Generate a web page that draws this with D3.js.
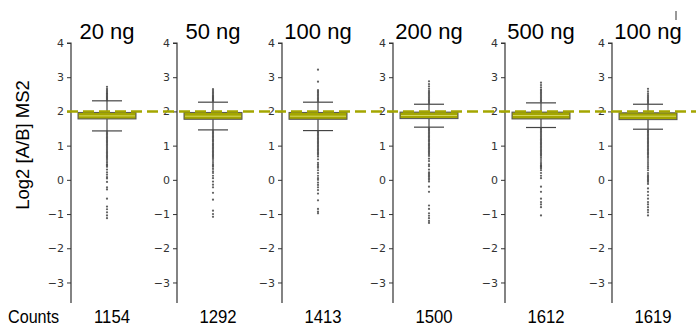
<!DOCTYPE html>
<html><head><meta charset="utf-8">
<script src="https://cdn.jsdelivr.net/npm/d3@7/dist/d3.min.js"></script>
<style>body{margin:0;background:#fff}svg{display:block}</style>
</head><body><svg id="c" width="696" height="326"></svg>
<script>
// ---- data ----
const categories = ["20 ng","50 ng","100 ng","200 ng","500 ng","100 ng"];
const counts = [1154,1292,1413,1500,1612,1619];
const q1 = [1.78,1.77,1.77,1.79,1.78,1.76];
const median = [1.87,1.86,1.86,1.88,1.88,1.86];
const q3 = [1.97,1.97,1.97,1.98,1.98,1.96];
const whiskerLow = [1.43,1.46,1.44,1.54,1.53,1.48];
const whiskerHigh = [2.31,2.27,2.27,2.21,2.25,2.21];
const outliers = [
  [2.33,2.36,2.39,2.42,2.45,2.48,2.51,2.54,2.58,2.62,2.66,2.72,
   1.40,1.36,1.32,1.28,1.24,1.2,1.16,1.12,1.08,1.04,1.0,0.96,0.92,0.88,0.84,0.8,0.76,0.72,0.68,0.64,0.6,0.55,0.5,0.45,0.42,0.38,0.3,0.22,0.15,0.08,0.04,-0.06,-0.22,-0.28,-0.55,-0.78,-0.86,-0.95,-1.04,-1.12],
  [2.3,2.33,2.36,2.39,2.42,2.45,2.48,2.52,2.56,2.6,2.65,
   1.43,1.39,1.35,1.31,1.27,1.23,1.19,1.15,1.11,1.07,1.03,0.99,0.95,0.91,0.87,0.83,0.79,0.75,0.71,0.67,0.63,0.58,0.52,0.46,0.42,0.38,0.32,0.25,0.2,0.12,0.05,-0.05,-0.14,-0.22,-0.38,-0.58,-0.9,-1.0,-1.08],
  [2.3,2.34,2.38,2.42,2.46,2.5,2.54,2.58,2.62,2.87,3.22,
   1.41,1.37,1.33,1.29,1.25,1.21,1.17,1.13,1.09,1.05,1.01,0.97,0.93,0.89,0.85,0.81,0.77,0.73,0.68,0.6,0.5,0.45,0.4,0.35,0.28,0.2,0.12,0.05,0.0,-0.08,-0.15,-0.22,-0.3,-0.4,-0.6,-0.85,-0.93,-0.98],
  [2.24,2.28,2.32,2.36,2.4,2.44,2.48,2.52,2.56,2.6,2.66,2.73,2.8,2.88,
   1.51,1.47,1.43,1.39,1.35,1.31,1.27,1.23,1.19,1.15,1.11,1.07,1.03,0.99,0.95,0.91,0.87,0.83,0.79,0.75,0.7,0.62,0.55,0.45,0.4,0.3,0.22,0.18,0.14,0.1,0.05,0.0,-0.05,-0.2,-0.35,-0.75,-0.85,-0.98,-1.05,-1.12,-1.2,-1.26],
  [2.28,2.32,2.36,2.4,2.44,2.48,2.52,2.56,2.6,2.64,2.7,2.77,2.84,
   1.5,1.46,1.42,1.38,1.34,1.3,1.26,1.22,1.18,1.14,1.1,1.06,1.02,0.98,0.94,0.9,0.86,0.82,0.78,0.74,0.7,0.64,0.58,0.52,0.47,0.43,0.4,0.37,0.33,0.28,0.2,0.12,0.05,-0.2,-0.35,-0.55,-0.65,-0.72,-0.8,-1.04],
  [2.24,2.28,2.32,2.36,2.4,2.44,2.48,2.53,2.59,2.66,
   1.45,1.41,1.37,1.33,1.29,1.25,1.21,1.17,1.13,1.09,1.05,1.01,0.97,0.93,0.89,0.85,0.81,0.77,0.73,0.69,0.64,0.58,0.52,0.46,0.4,0.34,0.28,0.2,0.14,0.1,0.06,0.02,-0.02,-0.06,-0.12,-0.25,-0.35,-0.45,-0.55,-0.65,-0.72,-0.8,-0.88,-0.95,-1.04]
];
const yTicks = [-3,-2,-1,0,1,2,3,4];
const refValue = 2;

// ---- layout ----
const panelX = [71,177,282,393,505,612];
const boxOffset = 36, boxW = 58, capW = 30;
const svg = d3.select("#c");
const y = d3.scaleLinear().domain([-3.6,4]).range([303,43]);
const olive = "#a4a600";
const fmt = d => d < 0 ? "\u2212" + Math.abs(d) : String(d);

categories.forEach((cat, i) => {
  const g = svg.append("g").attr("transform", `translate(${panelX[i]},0)`);
  const ax = d3.axisLeft(y).tickValues(yTicks).tickFormat(fmt).tickSize(4).tickPadding(3);
  g.call(ax);
  g.select(".domain").attr("stroke","#333").attr("stroke-width",1.2).attr("d", `M-4,${y(4)}H0V${y(-3.6)}`);
  g.selectAll(".tick line").attr("stroke","#333");
  g.selectAll(".tick text").attr("fill","#333").attr("font-family","DejaVu Sans").attr("font-size",11);

  const cx = boxOffset;
  g.append("line").attr("x1",cx).attr("x2",cx).attr("y1",y(q3[i])).attr("y2",y(whiskerHigh[i])).attr("stroke","#444").attr("stroke-width",1.2);
  g.append("line").attr("x1",cx).attr("x2",cx).attr("y1",y(q1[i])).attr("y2",y(whiskerLow[i])).attr("stroke","#444").attr("stroke-width",1.2);
  [whiskerHigh[i], whiskerLow[i]].forEach(v => {
    g.append("line").attr("x1",cx-capW/2).attr("x2",cx+capW/2).attr("y1",y(v)).attr("y2",y(v)).attr("stroke","#444").attr("stroke-width",1.2);
  });
  g.selectAll("circle.o").data(outliers[i]).join("circle").attr("class","o")
    .attr("cx",cx).attr("cy",d=>y(d)).attr("r",1.1).attr("fill","#444").attr("opacity",0.85);
  g.append("rect").attr("x",cx-boxW/2).attr("y",y(q3[i])).attr("width",boxW).attr("height",y(q1[i])-y(q3[i]))
    .attr("fill",olive).attr("stroke","#555").attr("stroke-width",1);
  g.append("line").attr("x1",cx-boxW/2+1).attr("x2",cx+boxW/2-1).attr("y1",y(median[i])).attr("y2",y(median[i]))
    .attr("stroke","#d6d860").attr("stroke-width",1);
  svg.append("text").attr("x",panelX[i]+cx).attr("y",39).attr("text-anchor","middle")
    .attr("font-family","Liberation Sans, Arial, sans-serif").attr("font-size",22).attr("fill","#000").text(cat);
  svg.append("text").attr("transform",`translate(${panelX[i]+cx+5},323) scale(0.88,1)`).attr("text-anchor","middle")
    .attr("font-family","Liberation Sans, sans-serif").attr("font-size",19).attr("fill","#000").text(counts[i]);
});

svg.append("line").attr("x1",67).attr("x2",696).attr("y1",y(refValue)).attr("y2",y(refValue))
  .attr("stroke",olive).attr("stroke-width",2.5).attr("stroke-dasharray","11,5");

svg.append("text").attr("transform","translate(8,323) scale(0.85,1)")
  .attr("font-family","Liberation Sans, sans-serif").attr("font-size",19).text("Counts");

svg.append("text").attr("transform",`translate(29,${145}) rotate(-90)`).attr("text-anchor","middle")
  .attr("font-family","Liberation Sans, Arial, sans-serif").attr("font-size",18.5).text("Log2 [A/B] MS2");

svg.append("line").attr("x1",676).attr("x2",676).attr("y1",11).attr("y2",20).attr("stroke","#333").attr("stroke-width",1);
</script></body></html>
